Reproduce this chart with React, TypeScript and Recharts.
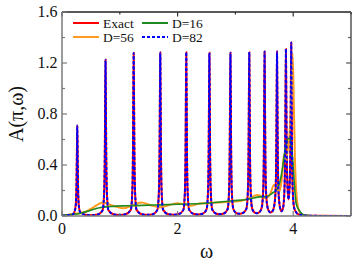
import { Label, Line, LineChart, ReferenceLine, XAxis, YAxis } from "recharts";

// axis ticks
const xTicks = [0, 1, 2, 3, 4, 5];
const xLabels = ["0", "", "2", "", "4", ""];
const yTicks = [0, 0.2, 0.4, 0.6, 0.8, 1.0, 1.2, 1.4, 1.6];
const yLabels = ["0.0", "", "0.4", "", "0.8", "", "1.2", "", "1.6"];

// [omega, A(pi, omega)]
const exact: [number, number][] = [
  [0, 0.002], [0.1, 0.006], [0.18, 0.012], [0.214, 0.03], [0.239, 0.09], [0.252, 0.27], [0.258, 0.5],
  [0.264, 0.71], [0.27, 0.5], [0.276, 0.27], [0.289, 0.09], [0.314, 0.03], [0.4, 0.01], [0.5, 0.006], [0.62, 0.012],
  [0.703, 0.045], [0.728, 0.17], [0.741, 0.5], [0.747, 0.9], [0.753, 1.225], [0.759, 0.9], [0.765, 0.5],
  [0.778, 0.17], [0.803, 0.045], [0.9, 0.012], [1.0, 0.008], [1.1, 0.014],
  [1.19, 0.048], [1.215, 0.175], [1.228, 0.52], [1.234, 0.94], [1.24, 1.278], [1.246, 0.94], [1.252, 0.52],
  [1.265, 0.175], [1.29, 0.048], [1.38, 0.014], [1.47, 0.009], [1.57, 0.014],
  [1.65, 0.048], [1.675, 0.175], [1.688, 0.52], [1.694, 0.94], [1.7, 1.283], [1.706, 0.94], [1.712, 0.52],
  [1.725, 0.175], [1.75, 0.048], [1.84, 0.014], [1.925, 0.01], [2.02, 0.015],
  [2.1, 0.048], [2.125, 0.175], [2.138, 0.52], [2.144, 0.94], [2.15, 1.285], [2.156, 0.94], [2.162, 0.52],
  [2.175, 0.175], [2.2, 0.048], [2.28, 0.016], [2.35, 0.012], [2.43, 0.018],
  [2.5, 0.05], [2.525, 0.178], [2.538, 0.52], [2.544, 0.94], [2.55, 1.28], [2.556, 0.94], [2.562, 0.52],
  [2.575, 0.178], [2.6, 0.05], [2.67, 0.018], [2.73, 0.014], [2.8, 0.02],
  [2.864, 0.052], [2.889, 0.18], [2.902, 0.53], [2.908, 0.94], [2.914, 1.28], [2.92, 0.94], [2.926, 0.53],
  [2.939, 0.18], [2.964, 0.055], [3.02, 0.022], [3.077, 0.017], [3.13, 0.024],
  [3.19, 0.056], [3.215, 0.185], [3.228, 0.53], [3.234, 0.95], [3.24, 1.285], [3.246, 0.95], [3.252, 0.53],
  [3.265, 0.185], [3.29, 0.058], [3.33, 0.028], [3.37, 0.022], [3.415, 0.03],
  [3.455, 0.065], [3.48, 0.19], [3.493, 0.54], [3.499, 0.95], [3.505, 1.29], [3.511, 0.95], [3.517, 0.54],
  [3.53, 0.19], [3.555, 0.07], [3.585, 0.035], [3.612, 0.028], [3.645, 0.04],
  [3.67, 0.075], [3.695, 0.2], [3.708, 0.54], [3.714, 0.96], [3.72, 1.29], [3.726, 0.96], [3.732, 0.54],
  [3.745, 0.2], [3.77, 0.07], [3.797, 0.037], [3.825, 0.065],
  [3.849, 0.21], [3.862, 0.56], [3.868, 0.97], [3.874, 1.31], [3.88, 0.98], [3.886, 0.6], [3.899, 0.26],
  [3.92, 0.13], [3.941, 0.27], [3.954, 0.63], [3.96, 1.03], [3.966, 1.36], [3.972, 1.0], [3.978, 0.58],
  [3.991, 0.21], [4.016, 0.065], [4.05, 0.03], [4.1, 0.012], [4.2, 0.004], [4.4, 0.001], [5, 0],
];

const d16: [number, number][] = [
  [0, 0.005], [0.15, 0.012], [0.31, 0.02], [0.5, 0.045], [0.65, 0.065], [0.85, 0.075], [1.12, 0.08],
  [1.4, 0.083], [1.69, 0.087], [2.0, 0.092], [2.49, 0.1], [2.95, 0.12], [3.2, 0.13], [3.41, 0.15],
  [3.55, 0.155], [3.64, 0.18], [3.7, 0.2], [3.76, 0.25], [3.81, 0.36], [3.86, 0.52], [3.9, 0.6],
  [3.93, 0.61], [3.96, 0.58], [3.99, 0.45], [4.02, 0.25], [4.05, 0.1], [4.1, 0.047], [4.16, 0.015],
  [4.22, 0.005], [4.4, 0], [5, 0],
];

const d56: [number, number][] = [
  [0, 0.0], [0.19, 0.015], [0.42, 0.035], [0.55, 0.07], [0.71, 0.105], [0.88, 0.08], [1.06, 0.06],
  [1.22, 0.085], [1.37, 0.105], [1.53, 0.085], [1.69, 0.069], [1.85, 0.085], [2.0, 0.1], [2.12, 0.09],
  [2.24, 0.081], [2.38, 0.098], [2.5, 0.1], [2.72, 0.105], [2.95, 0.113], [3.1, 0.12], [3.24, 0.14],
  [3.38, 0.165], [3.45, 0.155], [3.53, 0.14], [3.6, 0.17], [3.67, 0.245], [3.72, 0.23], [3.76, 0.19],
  [3.8, 0.28], [3.84, 0.48], [3.87, 0.42], [3.9, 0.5], [3.93, 0.6], [3.96, 0.85], [3.99, 1.275],
  [4.01, 0.9], [4.03, 0.45], [4.06, 0.15], [4.1, 0.04], [4.15, 0.01], [4.3, 0], [5, 0],
];

// D=82 lies on top of the exact result
const d82: [number, number][] = exact;

const rows = (pts: [number, number][]) => pts.map(([w, a]) => ({ w, a }));

const FONT = '"Liberation Serif", "DejaVu Serif", "Times New Roman", Times, serif';
const AXIS = "#7a7a7a";

function BottomTick({ x, y, payload }: any) {
  const lbl = xLabels[xTicks.indexOf(payload.value)];
  return (
    <g>
      <line x1={x} y1={y} x2={x} y2={y - (lbl ? 5 : 3)} stroke={AXIS} strokeWidth={1.2} />
      {lbl && (
        <text x={x} y={y + 18} textAnchor="middle" fontSize={16} fontFamily={FONT} fill="#111">
          {lbl}
        </text>
      )}
    </g>
  );
}

function LeftTick({ x, y, payload }: any) {
  const lbl = yLabels[yTicks.indexOf(payload.value)];
  return (
    <g>
      <line x1={x} y1={y} x2={x + (lbl ? 5 : 3)} y2={y} stroke={AXIS} strokeWidth={1.2} />
      {lbl && (
        <text x={x - 4.5} y={y + 5} textAnchor="end" fontSize={16} fontFamily={FONT} fill="#111">
          {lbl}
        </text>
      )}
    </g>
  );
}

function Legenda() {
  const items = [
    { x: 73, y: 23, color: "#ff0000", dash: undefined, label: "Exact" },
    { x: 142, y: 23, color: "#1f8a1f", dash: undefined, label: "D=16" },
    { x: 73, y: 37, color: "#ff9a22", dash: undefined, label: "D=56" },
    { x: 142, y: 37, color: "#0000ff", dash: "3 2", label: "D=82" },
  ];
  return (
    <svg
      width={353}
      height={50}
      style={{ position: "absolute", left: 0, top: 0, pointerEvents: "none" }}
    >
      {items.map((it) => (
        <g key={it.label}>
          <line
            x1={it.x}
            x2={it.x + 26}
            y1={it.y}
            y2={it.y}
            stroke={it.color}
            strokeWidth={2}
            strokeDasharray={it.dash}
          />
          <text x={it.x + 30} y={it.y + 4.5} fontSize={13.5} fontFamily={FONT} fill="#111">
            {it.label}
          </text>
        </g>
      ))}
    </svg>
  );
}

export default function App() {
  return (
    <div
      style={{
        position: "absolute",
        left: 0,
        top: 0,
        width: 353,
        height: 263,
        background: "#fff",
        fontFamily: FONT,
      }}
    >
      <LineChart width={353} height={263} margin={{ top: 12, right: 2, bottom: 0, left: 0 }}>
        <XAxis
          dataKey="w"
          type="number"
          domain={[0, 5]}
          ticks={xTicks}
          interval={0}
          allowDataOverflow
          height={47}
          tickSize={0}
          tickMargin={0}
          axisLine={{ stroke: AXIS, strokeWidth: 1.5 }}
          tickLine={false}
          tick={(p: any) => <BottomTick {...p} />}
        >
          <Label
            content={({ viewBox }: any) => (
              <text
                x={viewBox.x + viewBox.width / 2}
                y={viewBox.y + 42}
                textAnchor="middle"
                fontSize={20}
                fontFamily={FONT}
                fill="#111"
              >
                ω
              </text>
            )}
          />
        </XAxis>
        <YAxis
          type="number"
          domain={[0, 1.6]}
          ticks={yTicks}
          interval={0}
          allowDataOverflow
          width={62}
          tickSize={0}
          tickMargin={0}
          axisLine={{ stroke: AXIS, strokeWidth: 1.5 }}
          tickLine={false}
          tick={(p: any) => <LeftTick {...p} />}
        >
          <Label
            content={({ viewBox }: any) => {
              const cx = viewBox.x + 16;
              const cy = viewBox.y + viewBox.height / 2;
              return (
                <text
                  x={cx}
                  y={cy}
                  transform={`rotate(-90 ${cx} ${cy})`}
                  textAnchor="middle"
                  dominantBaseline="central"
                  fontSize={20}
                  fontFamily={FONT}
                  fill="#111"
                >
                  A(π,ω)
                </text>
              );
            }}
          />
        </YAxis>
        {/* plot frame, top and right */}
        <ReferenceLine y={1.6} stroke="#222" strokeWidth={1.5} ifOverflow="visible" />
        <ReferenceLine x={5} stroke="#555" strokeWidth={1.5} ifOverflow="visible" />
        {xTicks.map((t) => (
          <ReferenceLine
            key={`tx${t}`}
            segment={[{ x: t, y: 1.6 }, { x: t, y: t % 2 === 0 ? 1.565 : 1.58 }]}
            stroke="#333"
            strokeWidth={1.2}
            ifOverflow="visible"
          />
        ))}
        {yTicks.map((t, i) => (
          <ReferenceLine
            key={`ty${t}`}
            segment={[{ x: 5, y: t }, { x: i % 2 === 0 ? 4.915 : 4.95, y: t }]}
            stroke="#555"
            strokeWidth={1.2}
            ifOverflow="visible"
          />
        ))}
        <Line
          data={rows(exact)}
          dataKey="a"
          type="monotone"
          stroke="#ff0000"
          strokeWidth={2}
          dot={false}
          isAnimationActive={false}
        />
        <Line
          data={rows(d56)}
          dataKey="a"
          type="monotone"
          stroke="#ff9a22"
          strokeWidth={2}
          dot={false}
          isAnimationActive={false}
        />
        <Line
          data={rows(d16)}
          dataKey="a"
          type="monotone"
          stroke="#1f8a1f"
          strokeWidth={1.6}
          dot={false}
          isAnimationActive={false}
        />
        <Line
          data={rows(d82)}
          dataKey="a"
          type="monotone"
          stroke="#0000ff"
          strokeWidth={2}
          strokeDasharray="3 2"
          dot={false}
          isAnimationActive={false}
        />
      </LineChart>
      <Legenda />
    </div>
  );
}
